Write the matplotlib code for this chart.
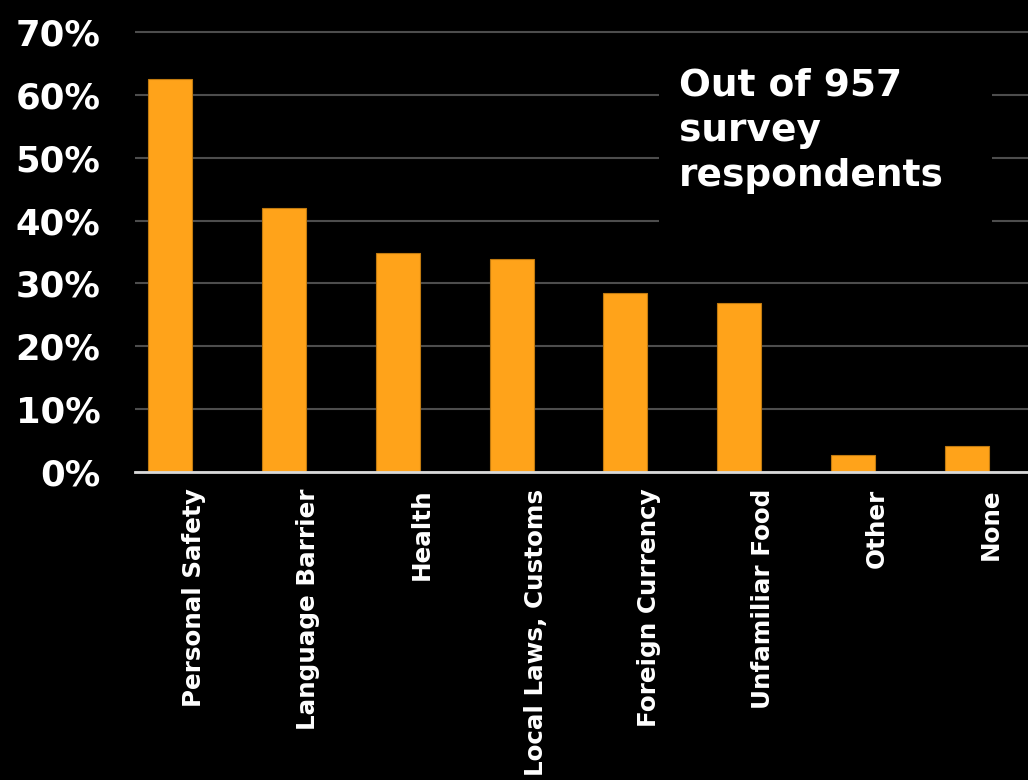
import matplotlib.pyplot as plt
from matplotlib.patches import Rectangle
from matplotlib.ticker import FuncFormatter
from matplotlib.transforms import ScaledTranslation

# Dados (percentual de respondentes)
categorias = ["Personal Safety", "Language Barrier", "Health", "Local Laws, Customs",
              "Foreign Currency", "Unfamiliar Food", "Other", "None"]
valores = [62.5, 42.0, 34.8, 33.9, 28.5, 26.9, 2.7, 4.2]
yticks = [0, 10, 20, 30, 40, 50, 60, 70]
nota = "Out of 957\nsurvey\nrespondents"

laranja = '#FFA31A'
W, H = 1028, 780

fig = plt.figure(figsize=(W / 100, H / 100), dpi=100, facecolor='black')
# eixo posicionado em pixels: esquerda 135, zero em y=472, 70% em y=32
topo_px = 26
ax = fig.add_axes([135 / W, (H - 472) / H, 1 - 135 / W, (472 - topo_px) / H])
ax.set_facecolor('black')

x = list(range(len(categorias)))
ax.bar(x, valores, width=0.386, color=laranja, edgecolor='#C07A10', linewidth=0.8, zorder=2)

ax.set_xlim(-0.307, 7.535)
ax.set_ylim(0, 70 * (472 - topo_px) / (472 - 32))
ax.set_yticks(yticks)
ax.yaxis.set_major_formatter(FuncFormatter(lambda v, p: f"{v:.0f}%"))
ax.set_xticks(x)
ax.set_xticklabels(categorias, rotation=90, va='top', ha='center')

ax.set_axisbelow(True)
ax.yaxis.grid(True, color='#4d4d4d', linewidth=1.5)
for lado in ['left', 'right', 'top']:
    ax.spines[lado].set_visible(False)
ax.spines['bottom'].set_color('#d9d9d9')
ax.spines['bottom'].set_linewidth(2)

ax.tick_params(axis='y', length=0, pad=25, labelsize=25.5, labelcolor='white')
ax.tick_params(axis='x', length=0, pad=12, labelsize=17.7, labelcolor='white')
for t in ax.get_yticklabels():
    t.set_fontweight('bold')
# rótulos do eixo x ficam um pouco à direita do centro da barra
desloc = ScaledTranslation(24 / 100, 0, fig.dpi_scale_trans)
for t in ax.get_xticklabels():
    t.set_fontweight('bold')
    t.set_transform(t.get_transform() + desloc)

# caixa preta atrás da nota, tapando as linhas de grade
ax.add_patch(Rectangle((659 / W, 1 - 250 / H), (992 - 659) / W, (250 - 40) / H,
                       transform=fig.transFigure, facecolor='black', edgecolor='none',
                       zorder=1, clip_on=False))
fig.text(679 / W, 1 - 68 / H, nota, color='white', fontsize=27, fontweight='bold',
         ha='left', va='top', linespacing=1.32)

fig.savefig('out.png', dpi=100, facecolor='black')
